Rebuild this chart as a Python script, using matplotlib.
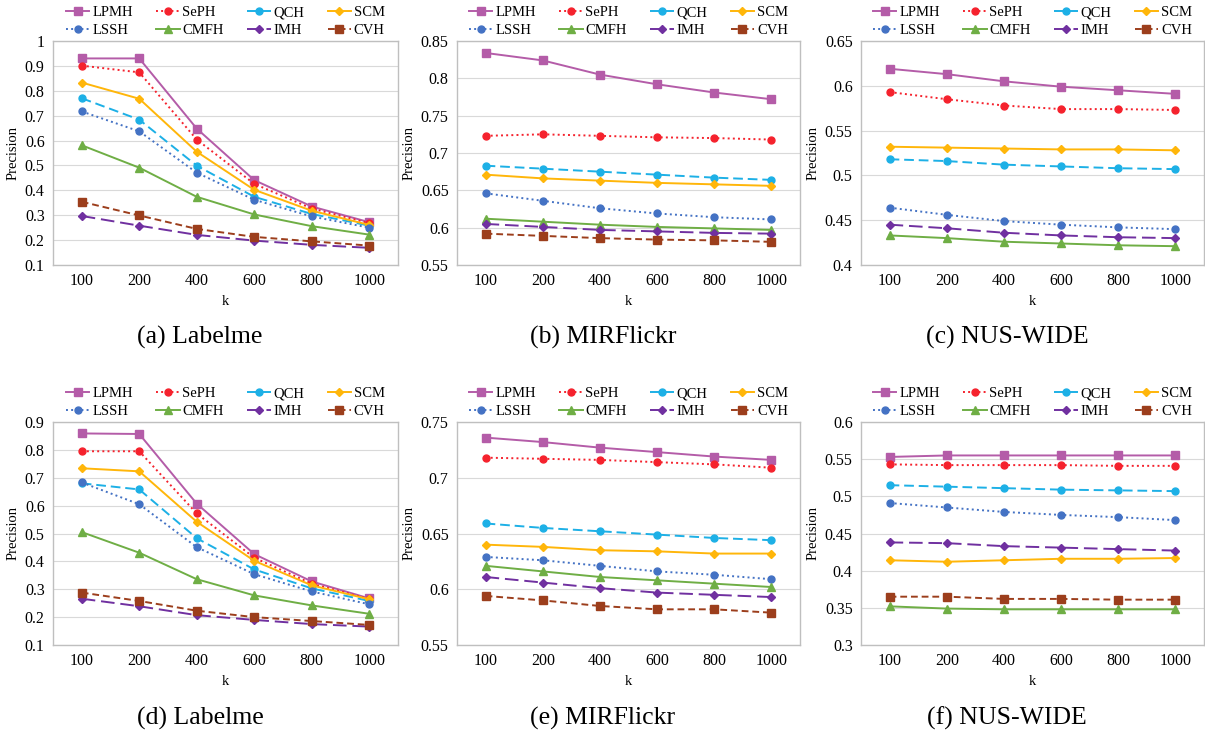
import numpy as np
import matplotlib
matplotlib.use('Agg')
import matplotlib.pyplot as plt
from matplotlib.ticker import FuncFormatter

plt.rcParams['font.family'] = ['Liberation Serif', 'DejaVu Serif']

# Data
k_labels = ['100', '200', '400', '600', '800', '1000']
methods = ['LPMH', 'SePH', 'QCH', 'SCM', 'LSSH', 'CMFH', 'IMH', 'CVH']

labelme_a = {
    'LPMH': [0.930, 0.930, 0.648, 0.441, 0.335, 0.272],
    'SePH': [0.901, 0.874, 0.604, 0.426, 0.327, 0.268],
    'QCH':  [0.770, 0.684, 0.499, 0.374, 0.305, 0.258],
    'SCM':  [0.833, 0.768, 0.555, 0.402, 0.318, 0.261],
    'LSSH': [0.717, 0.637, 0.471, 0.362, 0.295, 0.250],
    'CMFH': [0.581, 0.491, 0.374, 0.303, 0.256, 0.222],
    'IMH':  [0.297, 0.258, 0.221, 0.198, 0.181, 0.169],
    'CVH':  [0.354, 0.299, 0.245, 0.213, 0.195, 0.178],
}
mirflickr_b = {
    'LPMH': [0.834, 0.824, 0.805, 0.792, 0.781, 0.772],
    'SePH': [0.723, 0.725, 0.723, 0.721, 0.720, 0.718],
    'QCH':  [0.683, 0.679, 0.675, 0.671, 0.667, 0.664],
    'SCM':  [0.671, 0.666, 0.663, 0.660, 0.658, 0.656],
    'LSSH': [0.646, 0.636, 0.626, 0.619, 0.614, 0.611],
    'CMFH': [0.612, 0.608, 0.604, 0.601, 0.599, 0.597],
    'IMH':  [0.605, 0.601, 0.597, 0.595, 0.593, 0.592],
    'CVH':  [0.592, 0.589, 0.586, 0.584, 0.583, 0.581],
}
nuswide_c = {
    'LPMH': [0.619, 0.613, 0.605, 0.599, 0.595, 0.591],
    'SePH': [0.593, 0.585, 0.578, 0.574, 0.574, 0.573],
    'QCH':  [0.518, 0.516, 0.512, 0.510, 0.508, 0.507],
    'SCM':  [0.532, 0.531, 0.530, 0.529, 0.529, 0.528],
    'LSSH': [0.464, 0.456, 0.449, 0.445, 0.442, 0.440],
    'CMFH': [0.433, 0.430, 0.426, 0.424, 0.422, 0.421],
    'IMH':  [0.445, 0.441, 0.436, 0.433, 0.431, 0.430],
    'CVH':  [np.nan] * 6,
}
labelme_d = {
    'LPMH': [0.859, 0.857, 0.607, 0.426, 0.328, 0.267],
    'SePH': [0.795, 0.795, 0.572, 0.413, 0.320, 0.265],
    'QCH':  [0.680, 0.658, 0.483, 0.371, 0.303, 0.258],
    'SCM':  [0.734, 0.723, 0.542, 0.402, 0.314, 0.264],
    'LSSH': [0.683, 0.605, 0.451, 0.354, 0.292, 0.246],
    'CMFH': [0.505, 0.431, 0.336, 0.278, 0.242, 0.212],
    'IMH':  [0.266, 0.239, 0.207, 0.190, 0.175, 0.166],
    'CVH':  [0.288, 0.258, 0.223, 0.200, 0.186, 0.172],
}
mirflickr_e = {
    'LPMH': [0.736, 0.732, 0.727, 0.723, 0.719, 0.716],
    'SePH': [0.718, 0.717, 0.716, 0.714, 0.712, 0.709],
    'QCH':  [0.659, 0.655, 0.652, 0.649, 0.646, 0.644],
    'SCM':  [0.640, 0.638, 0.635, 0.634, 0.632, 0.632],
    'LSSH': [0.629, 0.626, 0.621, 0.616, 0.613, 0.609],
    'CMFH': [0.621, 0.616, 0.611, 0.608, 0.605, 0.602],
    'IMH':  [0.611, 0.606, 0.601, 0.597, 0.595, 0.593],
    'CVH':  [0.594, 0.590, 0.585, 0.582, 0.582, 0.579],
}
nuswide_f = {
    'LPMH': [0.553, 0.555, 0.555, 0.555, 0.555, 0.555],
    'SePH': [0.543, 0.542, 0.542, 0.542, 0.541, 0.541],
    'QCH':  [0.515, 0.513, 0.511, 0.509, 0.508, 0.507],
    'SCM':  [0.414, 0.412, 0.414, 0.416, 0.416, 0.417],
    'LSSH': [0.491, 0.485, 0.479, 0.475, 0.472, 0.468],
    'CMFH': [0.352, 0.349, 0.348, 0.348, 0.348, 0.348],
    'IMH':  [0.438, 0.437, 0.433, 0.431, 0.429, 0.427],
    'CVH':  [0.365, 0.365, 0.362, 0.362, 0.361, 0.361],
}

panels = [
    (labelme_a, '(a) Labelme', (0.1, 1.0, 0.1)),
    (mirflickr_b, '(b) MIRFlickr', (0.55, 0.85, 0.05)),
    (nuswide_c, '(c) NUS-WIDE', (0.4, 0.65, 0.05)),
    (labelme_d, '(d) Labelme', (0.1, 0.9, 0.1)),
    (mirflickr_e, '(e) MIRFlickr', (0.55, 0.75, 0.05)),
    (nuswide_f, '(f) NUS-WIDE', (0.3, 0.6, 0.05)),
]

styles = {
    'LPMH': dict(color='#B45CA8', ls='-', marker='s'),
    'SePH': dict(color='#F5222D', ls=':', marker='o'),
    'QCH':  dict(color='#1DB0E6', ls=(0, (5, 2.5)), marker='o'),
    'SCM':  dict(color='#FFB60A', ls='-', marker='D'),
    'LSSH': dict(color='#4472C4', ls=':', marker='o'),
    'CMFH': dict(color='#6FAE45', ls='-', marker='^'),
    'IMH':  dict(color='#7030A0', ls=(0, (7, 3)), marker='D'),
    'CVH':  dict(color='#9C3E1C', ls=(0, (3.5, 2)), marker='s'),
}
msize = {'s': 5.5, 'o': 5, 'D': 4, '^': 5.5}

W, H = 1205, 734
lefts = [53, 457, 861]
widths = [345, 343, 343]
tops = [41, 422]
bottoms = [265, 645]
cap_x = [200, 603, 1007]
cap_y = [337, 718]

fig = plt.figure(figsize=(W / 100, H / 100), dpi=100)
x = np.arange(len(k_labels))

for i, (data, caption, (ymin, ymax, step)) in enumerate(panels):
    r, c = divmod(i, 3)
    ax = fig.add_axes([lefts[c] / W, 1 - bottoms[r] / H,
                       widths[c] / W, (bottoms[r] - tops[r]) / H])
    lines = {}
    for m in methods:
        st = styles[m]
        lines[m], = ax.plot(x, data[m], color=st['color'], ls=st['ls'], lw=1.4,
                            marker=st['marker'], ms=msize[st['marker']], label=m)
    ax.set_xlim(-0.5, len(k_labels) - 0.5)
    ax.set_ylim(ymin, ymax)
    ax.set_yticks(np.arange(ymin, ymax + step / 2, step))
    ax.yaxis.set_major_formatter(FuncFormatter(lambda v, p: '{:g}'.format(round(v, 2))))
    ax.set_xticks(x)
    ax.set_xticklabels(k_labels)
    ax.tick_params(length=0, labelsize=11.5, pad=6)
    ax.grid(axis='y', color='#D9D9D9', lw=0.8)
    ax.set_axisbelow(True)
    for sp in ax.spines.values():
        sp.set_color('#BFBFBF')
        sp.set_linewidth(1.0)
    ax.set_ylabel('Precision', fontsize=10.5, labelpad=4)
    ax.set_xlabel('k', fontsize=10.5, labelpad=4)
    # legend fills column-wise, so reorder to read row-wise
    order = [methods[j] for pair in zip(range(4), range(4, 8)) for j in pair]
    ax.legend([lines[m] for m in order], order, ncol=4, loc='lower center',
              bbox_to_anchor=(0.5, 0.985), frameon=False, fontsize=10.5,
              handlelength=1.6, handletextpad=0.2, columnspacing=1.6,
              labelspacing=0.3, borderaxespad=0.1)
    fig.text(cap_x[c] / W, 1 - cap_y[r] / H, caption, ha='center', va='center',
             fontsize=18.5)

fig.savefig('out.png', dpi=100)
